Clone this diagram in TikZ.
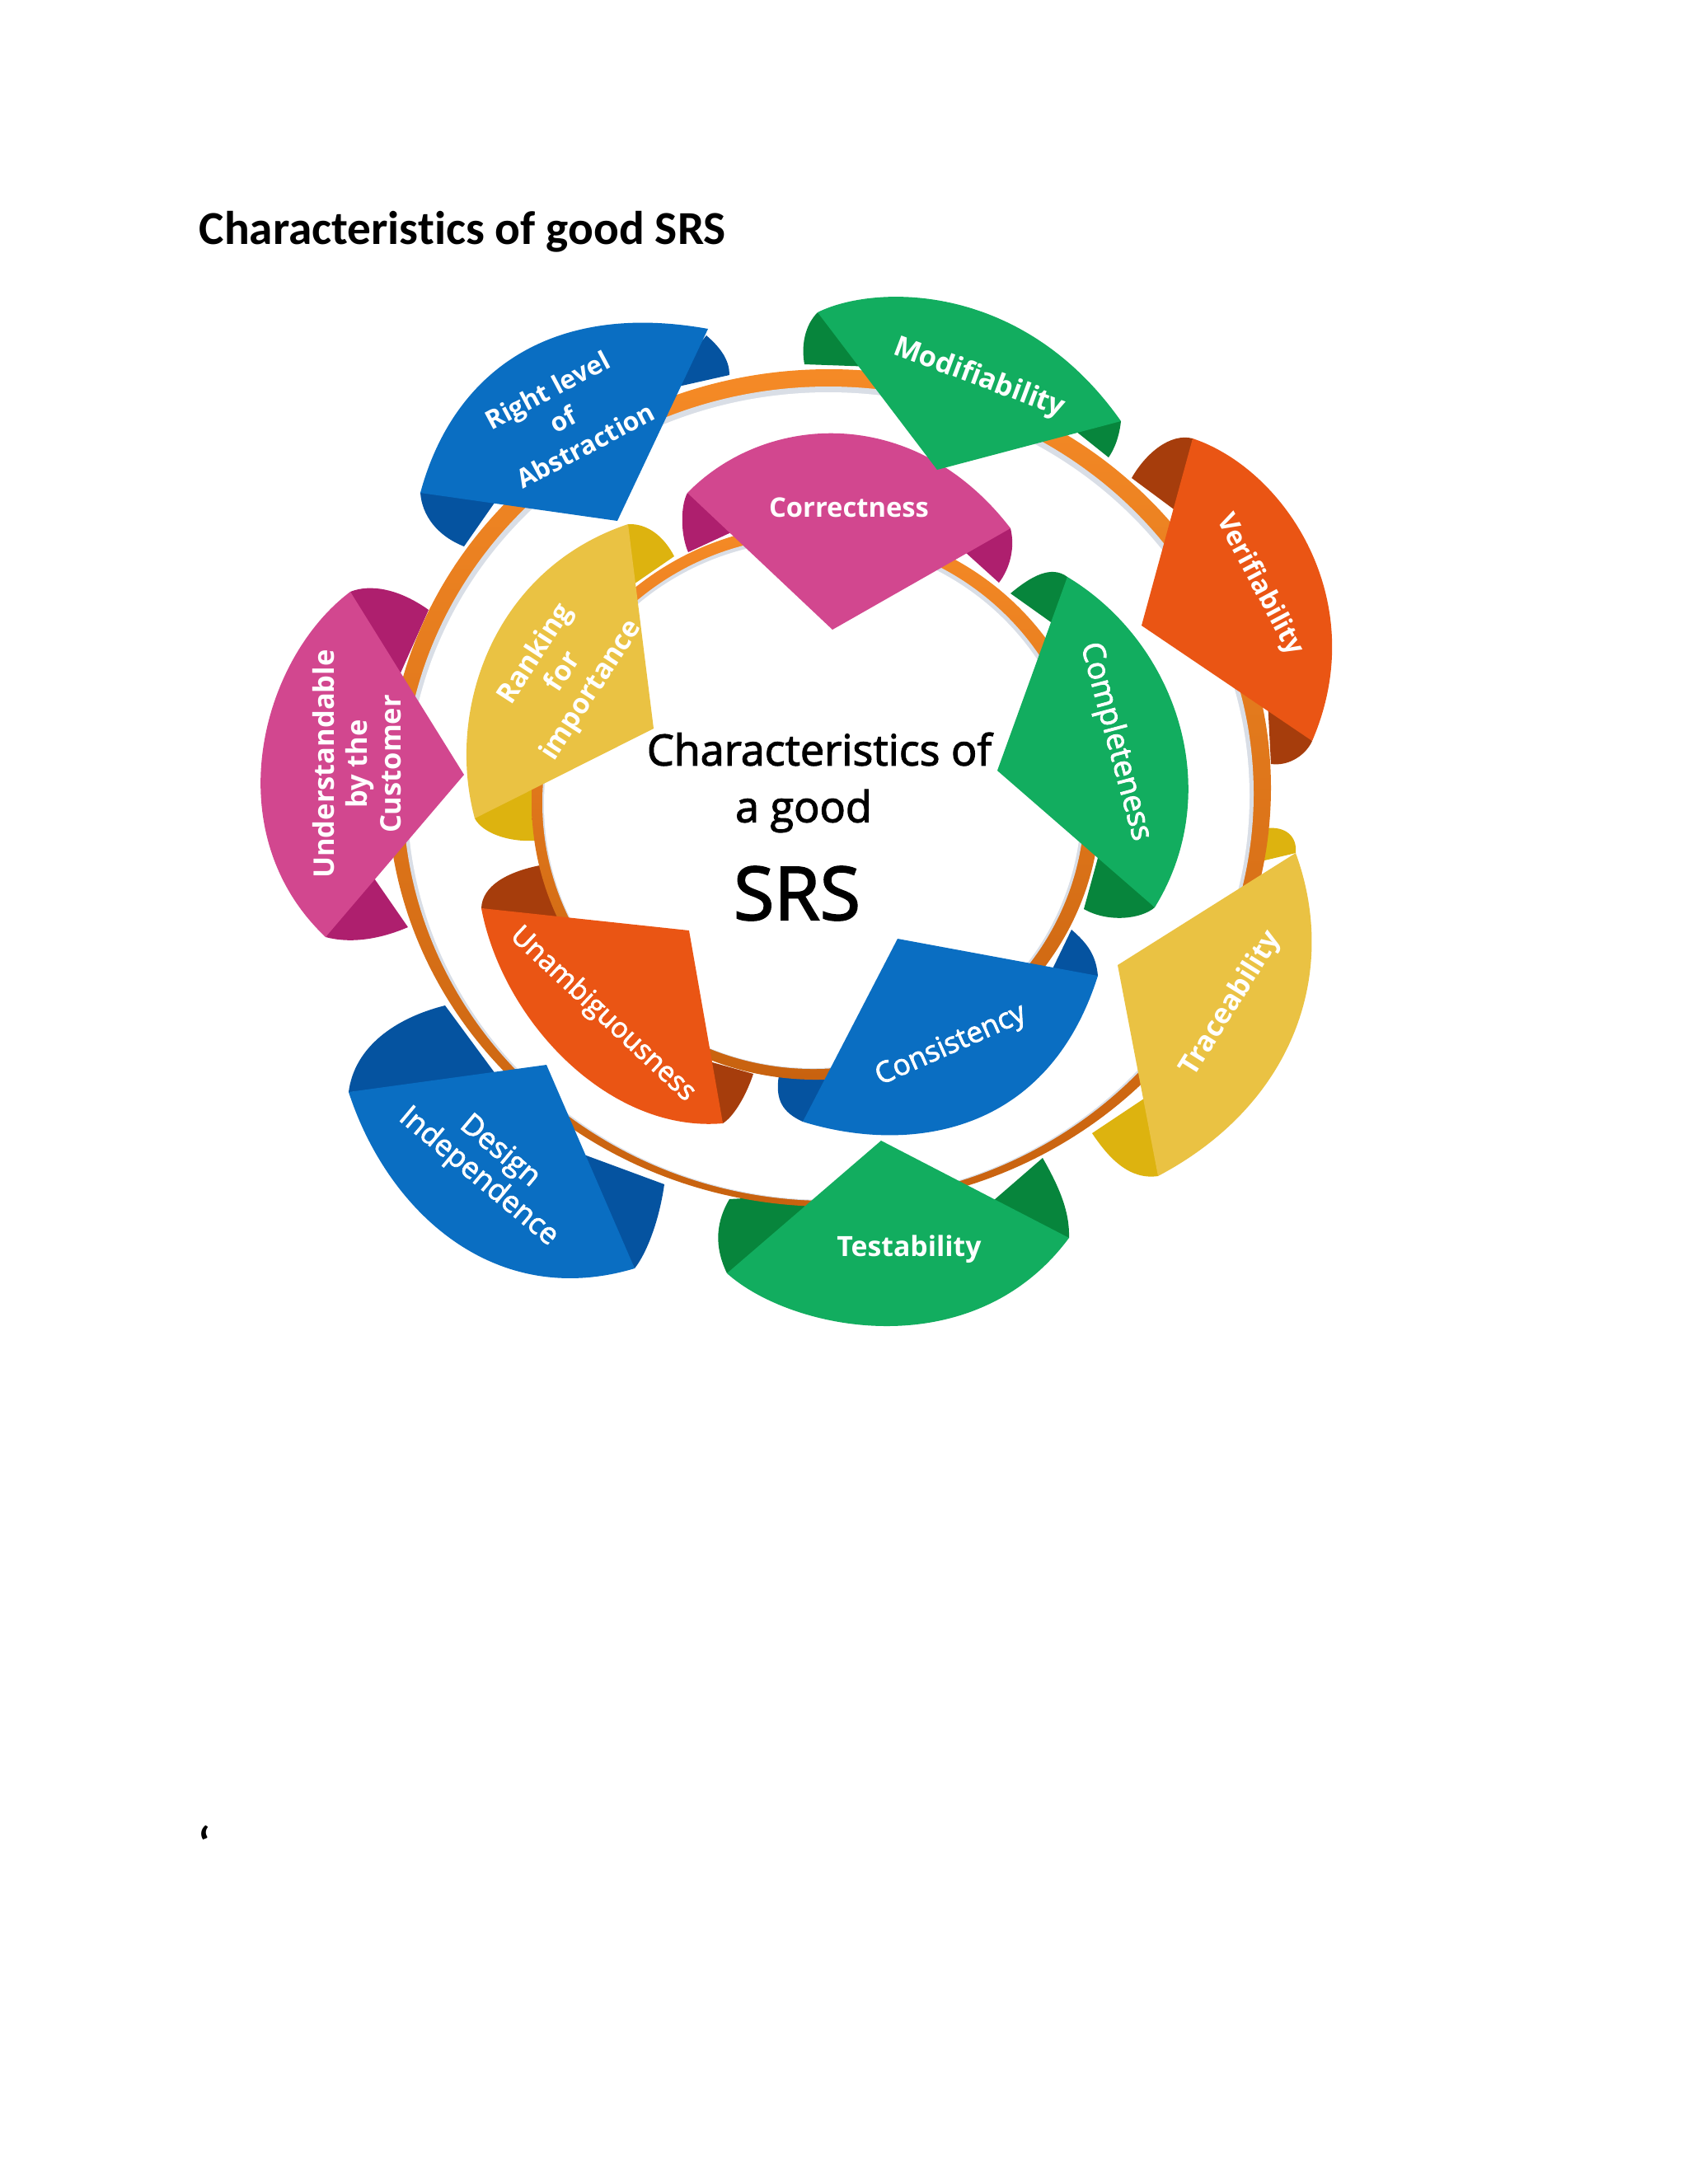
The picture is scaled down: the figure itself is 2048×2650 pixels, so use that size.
\documentclass[tikz,border=0pt]{standalone}
\usepackage{fontspec}
\setmainfont[Ligatures=NoCommon]{Carlito}
\newfontfamily\lblfont{Open Sans}
\newfontfamily\lblmed[FakeBold=2.2]{Open Sans}
\newcommand{\lblsize}[2]{\lblfont\fontsize{#1}{#2}\selectfont}
\newcommand{\medsize}[2]{\lblmed\fontsize{#1}{#2}\selectfont}
\definecolor{sblue}{HTML}{0A6EC2}
\definecolor{sbluedark}{HTML}{0553A0}
\definecolor{sgreen}{HTML}{12AD5F}
\definecolor{sgreendark}{HTML}{07853C}
\definecolor{sorange}{HTML}{EA5514}
\definecolor{sorangedark}{HTML}{A63D0C}
\definecolor{syellow}{HTML}{EAC243}
\definecolor{syellowdark}{HTML}{DDB30F}
\definecolor{smagenta}{HTML}{D2478F}
\definecolor{smagentadark}{HTML}{AE1F6E}
\definecolor{sringtop}{HTML}{F58A26}
\definecolor{sringbot}{HTML}{C8620F}
\definecolor{sshadow}{HTML}{D9DEE6}
\tikzset{
  lbl/.style={text=white, align=center, inner sep=0pt},
  centertext/.style={text=black, align=center, inner sep=0pt},
  ringband/.style={top color=sringtop, bottom color=sringbot},
}
\begin{document}
\begin{tikzpicture}[x=0.01cm, y=-0.01cm]
\useasboundingbox (0,0) rectangle (2048,2650);
\fill[white] (0,0) rectangle (2048,2650);

\node[anchor=west, inner sep=0pt, font=\bfseries\fontsize{16.3pt}{19pt}\selectfont] (title) at (241,281) {Characteristics of good SRS};
\node[inner sep=0pt, font=\bfseries\fontsize{16.3pt}{19pt}\selectfont] (mark) at (248,2236) {‘};

% folds of the outer wedges
\fill[sbluedark] (857,407) .. controls (878,425) and (885,440) .. (885,455) -- (805,473) -- cycle;
\fill[sbluedark] (510,598) -- (607,600) -- (563,663) .. controls (530,650) and (512,625) .. (510,598);
\fill[sgreendark] (992,379) .. controls (976,395) and (972,420) .. (976,442) -- (1060,445) -- cycle;
\fill[sgreendark] (1360,511) .. controls (1358,530) and (1352,545) .. (1345,555) -- (1295,515) -- cycle;
\fill[sorangedark] (1447,532) .. controls (1420,525) and (1390,550) .. (1373,580) -- (1435,626) -- cycle;
\fill[sorangedark] (1592,899) .. controls (1585,915) and (1565,930) .. (1542,927) -- (1538,850) -- cycle;
\fill[syellowdark] (1572,1035) .. controls (1574,1015) and (1560,1002) .. (1536,1005) -- (1530,1045) -- cycle;
\fill[syellowdark] (1405,1427) .. controls (1370,1432) and (1345,1405) .. (1325,1375) -- (1400,1325) -- cycle;
\fill[sgreendark] (882,1545) .. controls (865,1510) and (870,1480) .. (885,1455) -- (970,1450) -- (985,1480) -- cycle;
\fill[sgreendark] (1297,1502) .. controls (1298,1470) and (1285,1440) .. (1265,1405) -- (1190,1470) -- cycle;
\fill[sbluedark] (423,1325) .. controls (430,1270) and (480,1235) .. (540,1220) -- (610,1315) -- cycle;
\fill[sbluedark] (770,1539) .. controls (785,1520) and (800,1480) .. (806,1437) -- (695,1396) -- cycle;
\fill[smagentadark] (425,718) .. controls (450,708) and (485,715) .. (520,740) -- (480,830) -- cycle;
\fill[smagentadark] (395,1137) .. controls (425,1145) and (460,1140) .. (495,1125) -- (450,1060) -- cycle;

% outer ring
\shade[ringband] (1006,956) ellipse (536 and 508);
\fill[sshadow] (1005,963) ellipse (516 and 494);
\fill[white] (1005,966) ellipse (511 and 490);

% folds of the inner wedges
\fill[syellowdark] (762,636) .. controls (785,635) and (805,650) .. (818,675) -- (760,715) -- cycle;
\fill[syellowdark] (576,993) .. controls (585,1010) and (615,1022) .. (650,1020) -- (650,940) -- cycle;
\fill[smagentadark] (834,598) .. controls (825,615) and (826,650) .. (835,670) -- (900,640) -- cycle;
\fill[smagentadark] (1226,641) .. controls (1232,665) and (1225,690) .. (1212,707) -- (1160,660) -- cycle;
\fill[sgreendark] (1295,700) .. controls (1275,685) and (1250,700) .. (1226,720) -- (1285,762) -- cycle;
\fill[sgreendark] (1401,1101) .. controls (1385,1115) and (1345,1120) .. (1315,1103) -- (1335,1030) -- cycle;
\fill[sbluedark] (1332,1184) .. controls (1330,1160) and (1320,1145) .. (1300,1128) -- (1270,1190) -- cycle;
\fill[sbluedark] (974,1361) .. controls (950,1350) and (940,1335) .. (945,1305) -- (1015,1310) -- cycle;
\fill[sorangedark] (584,1102) .. controls (585,1075) and (615,1058) .. (655,1050) -- (685,1125) -- cycle;
\fill[sorangedark] (877,1363) .. controls (890,1355) and (905,1330) .. (914,1303) -- (850,1285) -- cycle;

% inner ring
\shade[ringband] (990,973) ellipse (345 and 337);
\fill[sshadow] (987,974) ellipse (329 and 323);
\fill[white] (986,976) ellipse (326 and 320);

% inner wedges
\fill[syellow] (576,993) .. controls (540,860) and (600,690) .. (762,636) -- (793,884) -- cycle;
\fill[smagenta] (834,598) .. controls (930,500) and (1110,490) .. (1226,641) -- (1010,764) -- cycle;
\fill[sgreen] (1295,700) .. controls (1428,780) and (1488,960) .. (1401,1101) -- (1210,935) -- cycle;
\fill[sblue] (974,1361) .. controls (1100,1400) and (1270,1380) .. (1332,1184) -- (1089,1139) -- cycle;
\fill[sorange] (584,1102) .. controls (610,1240) and (740,1375) .. (877,1363) -- (836,1129) -- cycle;

% outer wedges
\fill[sblue] (510,598) .. controls (550,450) and (670,365) .. (859,399) -- (749,632) -- cycle;
\fill[sgreen] (992,379) .. controls (1060,345) and (1240,340) .. (1360,511) -- (1137,570) -- cycle;
\fill[sorange] (1447,532) .. controls (1560,570) and (1665,730) .. (1592,899) -- (1385,759) -- cycle;
\fill[syellow] (1572,1035) .. controls (1625,1180) and (1570,1340) .. (1405,1427) -- (1356,1171) -- cycle;
\fill[sgreen] (882,1545) .. controls (960,1615) and (1180,1660) .. (1297,1502) -- (1069,1384) -- cycle;
\fill[sblue] (423,1325) .. controls (470,1470) and (600,1590) .. (770,1539) -- (663,1292) -- cycle;
\fill[smagenta] (425,718) .. controls (316,800) and (261,1010) .. (395,1137) -- (563,940) -- cycle;

% labels
\node[lbl, rotate=28, font=\lblsize{9pt}{11.5pt}\bfseries] (rightlevel) at (683,509) {Right level\\of\\\hspace{0.6em}Abstraction};
\node[lbl, rotate=-20.5, font=\lblsize{9.8pt}{11pt}\bfseries] (modifiability) at (1188,459) {Modifiability};
\node[lbl, rotate=-62, font=\lblsize{9.2pt}{11pt}\bfseries] (verifiability) at (1528,710) {Verifiability};
\node[lbl, rotate=-75, font=\medsize{10.6pt}{12pt}] (completeness) at (1353,900) {Completeness};
\node[lbl, font=\lblsize{9.3pt}{11pt}\bfseries] (correctness) at (1030,616) {Correctness};
\node[lbl, rotate=57, font=\lblsize{9.6pt}{11.5pt}\bfseries] (ranking) at (684,816) {Ranking\\for\\importance};
\node[lbl, rotate=90, font=\lblsize{9.8pt}{11.6pt}\bfseries] (understandable) at (433,927) {Understandable\\by the\\Customer};
\node[lbl, rotate=-43, font=\medsize{9.6pt}{11pt}] (unambiguousness) at (731,1231) {Unambiguousness};
\node[lbl, rotate=-40, font=\medsize{10.2pt}{11.5pt}] (design) at (593,1413) {Design\\Independence};
\node[lbl, font=\lblsize{9.6pt}{11pt}\bfseries] (testability) at (1103,1516) {Testability};
\node[lbl, rotate=24, font=\medsize{10pt}{11pt}] (consistency) at (1154,1269) {Consistency};
\node[lbl, rotate=58, font=\lblsize{9.7pt}{11pt}\bfseries] (traceability) at (1494,1218) {Traceability};

\node[centertext, font=\medsize{14.8pt}{17pt}] (maintitle) at (994,909) {Characteristics of};
\node[centertext, font=\medsize{14.8pt}{17pt}] (agood) at (975,984) {a good};
\node[centertext, font=\medsize{25.5pt}{30pt}] (srs) at (967,1084) {SRS};
\end{tikzpicture}
\end{document}
